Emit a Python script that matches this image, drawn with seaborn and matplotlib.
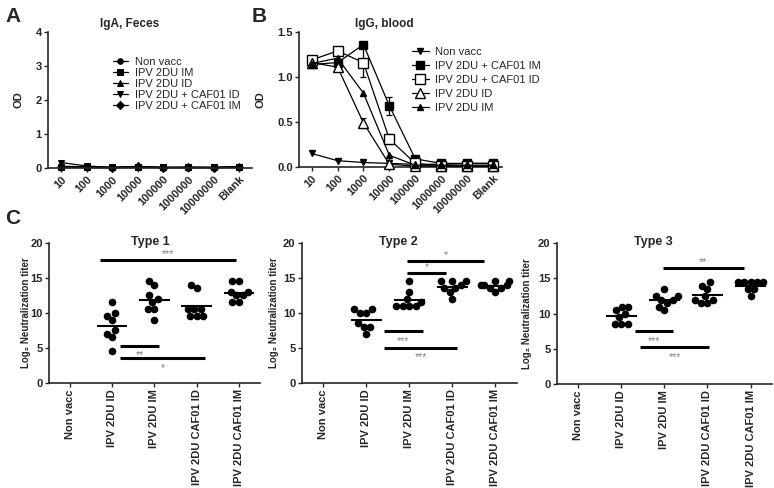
import numpy as np
import pandas as pd
import matplotlib
matplotlib.use("Agg")
import matplotlib.pyplot as plt
from matplotlib.collections import PathCollection
import seaborn as sns

# ---- data ----
dilutions = ['10', '100', '1000', '10000', '100000', '1000000', '10000000', 'Blank']

# A: IgA, feces (OD)
iga_labels = ['Non vacc', 'IPV 2DU IM', 'IPV 2DU ID', 'IPV 2DU + CAF01 ID', 'IPV 2DU + CAF01 IM']
iga_non_vacc = [0.03, 0.02, 0.01, 0.02, 0.01, 0.01, 0.01, 0.02]
iga_ipv_im = [0.04, 0.03, 0.02, 0.03, 0.02, 0.02, 0.02, 0.03]
iga_ipv_id = [0.05, 0.04, 0.02, 0.04, 0.02, 0.02, 0.02, 0.04]
iga_caf_id = [0.16, 0.06, 0.02, 0.03, 0.02, 0.02, 0.02, 0.03]
iga_caf_im = [0.03, 0.02, 0.01, 0.05, 0.01, 0.02, 0.01, 0.03]

# B: IgG, blood (OD, mean and error)
igg_labels = ['Non vacc', 'IPV 2DU + CAF01 IM', 'IPV 2DU + CAF01 ID', 'IPV 2DU ID', 'IPV 2DU IM']
igg_non_vacc = [0.15, 0.07, 0.05, 0.04, 0.03, 0.03, 0.04, 0.04]
igg_caf_im = [1.14, 1.16, 1.36, 0.68, 0.09, 0.04, 0.04, 0.04]
igg_caf_im_err = [0.02, 0.02, 0.03, 0.10, 0.02, 0.01, 0.01, 0.01]
igg_caf_id = [1.19, 1.29, 1.16, 0.31, 0.04, 0.01, 0.01, 0.01]
igg_caf_id_err = [0.02, 0.02, 0.16, 0.06, 0.01, 0.0, 0.0, 0.0]
igg_ipv_id = [1.16, 1.11, 0.49, 0.03, 0.01, 0.01, 0.01, 0.01]
igg_ipv_id_err = [0.02, 0.03, 0.06, 0.01, 0.0, 0.0, 0.0, 0.0]
igg_ipv_im = [1.15, 1.21, 0.82, 0.13, 0.02, 0.02, 0.02, 0.02]

# C: log2 neutralization titers
groups = ['Non vacc', 'IPV 2DU ID', 'IPV 2DU IM', 'IPV 2DU CAF01 ID', 'IPV 2DU CAF01 IM']
t1_ipv_id = [11.5, 10, 9.5, 9, 7.5, 7, 6.5, 4.5]
t1_ipv_im = [14.5, 14, 12.5, 12, 11.5, 10.5, 10.5, 9]
t1_caf_id = [14, 13.5, 10.5, 10.5, 10.5, 9.5, 9.5, 9.5]
t1_caf_im = [14.5, 14.5, 13, 13, 12.5, 12.5, 11.5, 11.5]
t2_ipv_id = [10.5, 10.5, 10, 10, 8.5, 8, 8, 7]
t2_ipv_im = [14.5, 13, 12, 11.5, 11, 11, 11, 11]
t2_caf_id = [14.5, 14.5, 14.5, 14, 13.5, 13.5, 13, 12]
t2_caf_im = [14.5, 14.5, 14, 14, 14, 13.5, 13.5, 13]
t3_ipv_id = [11, 11, 10.5, 10, 9.5, 8.5, 8.5, 8.5]
t3_ipv_im = [13.5, 12.5, 12.5, 12, 12, 11.5, 11, 10.5]
t3_caf_id = [14.5, 14, 13.5, 12.5, 12, 12, 11.5, 11.5]
t3_caf_im = [14.5, 14.5, 14.5, 14.5, 14.5, 13.5, 13.5, 12.5]

# significance brackets: (x start, x end, level, stars, text side)
sig_t1 = [(0.70, 3.93, 17.6, '***', 'above'), (1.19, 2.10, 5.35, '**', 'below'),
          (1.19, 3.19, 3.6, '*', 'below')]
sig_t2 = [(1.96, 3.73, 17.4, '*', 'above'), (1.96, 2.85, 15.7, '*', 'above'),
          (1.41, 2.31, 7.45, '***', 'below'), (1.41, 3.12, 5.05, '***', 'below')]
sig_t3 = [(1.96, 3.85, 16.5, '**', 'above'), (1.32, 2.19, 7.5, '***', 'below'),
          (1.44, 3.04, 5.26, '***', 'below')]

sns.set_style("ticks")
plt.rcParams['font.family'] = ['Liberation Sans', 'DejaVu Sans']
plt.rcParams['font.weight'] = 'bold'
plt.rcParams['axes.labelweight'] = 'bold'

fig = plt.figure(figsize=(7.74, 4.88), dpi=100)


def style_axis(ax):
    sns.despine(ax=ax)
    for s in ['left', 'bottom']:
        ax.spines[s].set_linewidth(1.2)
    ax.tick_params(direction='out', length=3, width=1, pad=1.5, labelsize=8)


x_pos = np.arange(len(dilutions))

# ---- A ----
axA = fig.add_axes([0.0620, 0.6557, 0.2636, 0.2787])
a_series = [iga_non_vacc, iga_ipv_im, iga_ipv_id, iga_caf_id, iga_caf_im]
a_markers = ['o', 's', '^', 'v', 'D']
for vals, lab, mk in zip(a_series, iga_labels, a_markers):
    sns.lineplot(x=x_pos, y=vals, ax=axA, color='k', lw=0.9, marker=mk,
                 markersize=4, markeredgecolor='k', label=lab, clip_on=False)
axA.set_ylim(0, 4)
axA.set_yticks([0, 1, 2, 3, 4])
axA.set_xlim(-0.53, 7.5)
axA.set_xticks(x_pos)
axA.set_xticklabels(dilutions, rotation=45, ha='right', rotation_mode='anchor', fontsize=7)
axA.set_ylabel('OD', fontsize=8)
axA.yaxis.set_label_coords(-0.12, 0.5)
style_axis(axA)
axA.legend(loc='upper left', bbox_to_anchor=(0.29, 0.86), frameon=False, borderpad=0,
           prop={'weight': 'normal', 'size': 8}, handlelength=1.4, handletextpad=0.6,
           labelspacing=0.1)
axA.text(0.40, 1.06, 'IgA, Feces', transform=axA.transAxes, ha='center', va='center',
         fontsize=8.5)

# ---- B ----
axB = fig.add_axes([0.3863, 0.6578, 0.2623, 0.2766])
b_series = [igg_non_vacc, igg_caf_im, igg_caf_id, igg_ipv_id, igg_ipv_im]
b_err = [None, igg_caf_im_err, igg_caf_id_err, igg_ipv_id_err, None]
b_style = [('v', 'k', 4.5), ('s', 'k', 5.5), ('s', 'white', 6.5), ('^', 'white', 7), ('^', 'k', 4)]
for vals, err, lab, (mk, fc, ms) in zip(b_series, b_err, igg_labels, b_style):
    if err is not None:
        axB.errorbar(x_pos, vals, yerr=err, fmt='none', ecolor='k', elinewidth=0.9,
                     capsize=2.5, capthick=0.9, zorder=2)
    sns.lineplot(x=x_pos, y=vals, ax=axB, color='k', lw=0.9, marker=mk, markersize=ms,
                 markerfacecolor=fc, markeredgecolor='k', markeredgewidth=1,
                 label=lab, clip_on=False, zorder=3)
axB.set_ylim(0, 1.5)
axB.set_yticks([0, 0.5, 1.0, 1.5])
axB.set_yticklabels(['0.0', '0.5', '1.0', '1.5'])
axB.set_xlim(-0.49, 7.35)
axB.set_xticks(x_pos)
axB.set_xticklabels(dilutions, rotation=45, ha='right', rotation_mode='anchor', fontsize=7)
axB.set_ylabel('OD', fontsize=8)
axB.yaxis.set_label_coords(-0.163, 0.5)
style_axis(axB)
axB.legend(loc='upper left', bbox_to_anchor=(0.53, 0.93), frameon=False, borderpad=0,
           prop={'weight': 'normal', 'size': 8}, handlelength=1.5, handletextpad=0.6,
           labelspacing=0.35)
axB.text(0.42, 1.06, 'IgG, blood', transform=axB.transAxes, ha='center', va='center',
         fontsize=8.5)

# ---- C ----
c_data = [
    ('Type 1', [t1_ipv_id, t1_ipv_im, t1_caf_id, t1_caf_im], sig_t1,
     [0.0633, 0.2152, 0.2726, 0.2869], 0.48, -0.085),
    ('Type 2', [t2_ipv_id, t2_ipv_im, t2_caf_id, t2_caf_im], sig_t2,
     [0.3898, 0.2152, 0.2778, 0.2869], 0.45, -0.105),
    ('Type 3', [t3_ipv_id, t3_ipv_im, t3_caf_id, t3_caf_im], sig_t3,
     [0.7193, 0.2131, 0.2782, 0.2883], 0.45, -0.115),
]
c_axes = []
for title, vals_list, sigs, rect, tx, lx in c_data:
    ax = fig.add_axes(rect)
    c_axes.append(ax)
    rows = []
    for g, vals in zip(groups[1:], vals_list):
        rows += [(g, v) for v in vals]
    df = pd.DataFrame(rows, columns=['group', 'titer'])
    sns.swarmplot(data=df, x='group', y='titer', order=groups, color='k', size=5.5,
                  ax=ax, clip_on=False, zorder=3)
    means = df.groupby('group')['titer'].mean()
    for i, g in enumerate(groups):
        if g in means:
            ax.hlines(means[g], i - 0.36, i + 0.36, color='k', lw=1.5, zorder=4)
    for x1, x2, lev, stars, side in sigs:
        ax.hlines(lev, x1, x2, color='k', lw=2.2)
        ty = lev + 0.8 if side == 'above' else lev - 1.4
        ax.text((x1 + x2) / 2, ty, stars, ha='center', va='center', fontsize=7.5,
                color='#808080', fontweight='normal')
    ax.set_ylim(0, 20)
    ax.set_yticks([0, 5, 10, 15, 20])
    ax.set_xlim(-0.5, 4.5)
    ax.set_xticks(range(len(groups)))
    ax.set_xticklabels(groups, rotation=90, fontsize=7)
    ax.set_xlabel('')
    ax.set_ylabel('Log\u2082 Neutralization titer', fontsize=7)
    ax.yaxis.set_label_coords(lx, 0.5)
    style_axis(ax)
    ax.text(tx, 1.01, title, transform=ax.transAxes, ha='center', va='center', fontsize=9)

# panel letters
fig.text(0.007, 1 - 22 / 488, 'A', fontsize=15, va='baseline')
fig.text(0.325, 1 - 22 / 488, 'B', fontsize=15, va='baseline')
fig.text(0.007, 1 - 224 / 488, 'C', fontsize=15, va='baseline')

# let seaborn lay out the swarms once, then pull them a little tighter (Prism-like)
fig.canvas.draw()
for ax in c_axes:
    for coll in ax.collections:
        if isinstance(coll, PathCollection) and 'draw' in coll.__dict__:
            del coll.draw
            offs = np.asarray(coll.get_offsets()).copy()
            if len(offs):
                center = np.round(offs[:, 0])
                offs[:, 0] = center + (offs[:, 0] - center) * 0.8
                coll.set_offsets(offs)

fig.savefig('out.png', dpi=100)
